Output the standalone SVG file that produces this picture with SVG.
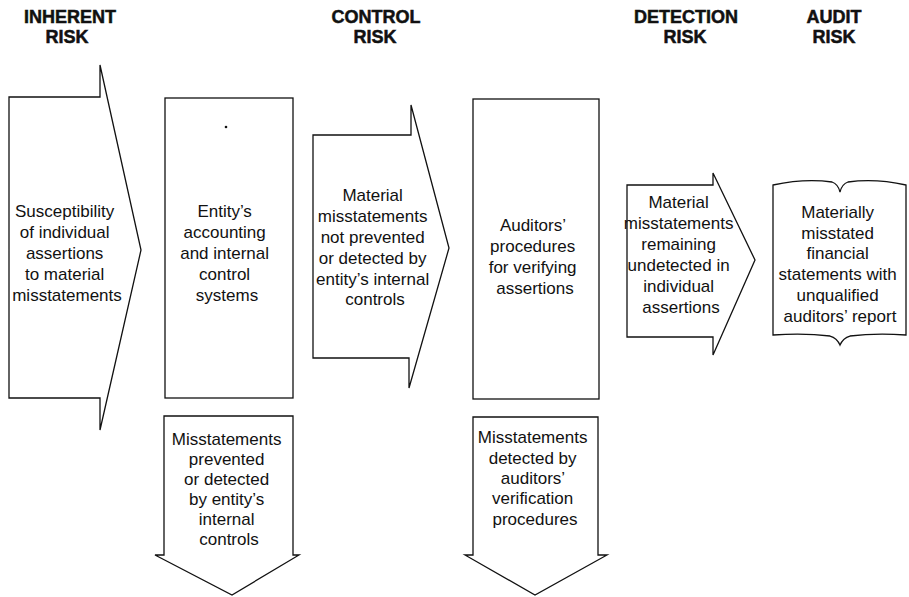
<svg xmlns="http://www.w3.org/2000/svg" width="909" height="597" viewBox="0 0 909 597">
  <style>
    .shape { fill: #fff; stroke: #111; stroke-width: 1.3; stroke-linejoin: miter; }
    .head { font-family: "Liberation Sans", Arial, sans-serif; font-weight: bold; font-size: 18px; fill: #111; stroke: #111; stroke-width: 0.5; text-anchor: middle; }
    .body { font-family: "Liberation Sans", Arial, sans-serif; font-size: 17px; fill: #111; text-anchor: middle; }
  </style>
  <rect width="909" height="597" fill="#fff"/>

  <!-- Column headings -->
  <g id="headings">
    <text class="head" x="70" y="23">INHERENT</text>
    <text class="head" x="67" y="43">RISK</text>
    <text class="head" x="376" y="23">CONTROL</text>
    <text class="head" x="375" y="43">RISK</text>
    <text class="head" x="686" y="23">DETECTION</text>
    <text class="head" x="685" y="43">RISK</text>
    <text class="head" x="834" y="23">AUDIT</text>
    <text class="head" x="834" y="43">RISK</text>
  </g>

  <!-- Inherent risk: right-pointing arrow -->
  <g id="inherent-risk">
    <path class="shape" d="M9,97 H100 V65 L141,250 L100,430 V398 H9 Z"/>
    <text class="body">
      <tspan x="67" y="217">Susceptibility</tspan>
      <tspan x="67" y="238">of individual</tspan>
      <tspan x="67" y="259">assertions</tspan>
      <tspan x="67" y="280">to material</tspan>
      <tspan x="67" y="301">misstatements</tspan>
    </text>
  </g>

  <!-- Entity's control systems box -->
  <g id="entity-controls">
    <rect class="shape" x="165" y="98" width="128" height="300"/>
    <circle cx="226" cy="127" r="1.3" fill="#111"/>
    <text class="body">
      <tspan x="227" y="217">Entity’s</tspan>
      <tspan x="227" y="238">accounting</tspan>
      <tspan x="227" y="259">and internal</tspan>
      <tspan x="227" y="280">control</tspan>
      <tspan x="227" y="301">systems</tspan>
    </text>
  </g>

  <!-- Misstatements prevented: down arrow -->
  <g id="prevented">
    <path class="shape" d="M164,416 H293 V555 H299 L232,595 L155,555 H164 Z"/>
    <text class="body">
      <tspan x="229" y="445">Misstatements</tspan>
      <tspan x="229" y="465">prevented</tspan>
      <tspan x="229" y="485">or detected</tspan>
      <tspan x="229" y="505">by entity’s</tspan>
      <tspan x="229" y="525">internal</tspan>
      <tspan x="229" y="545">controls</tspan>
    </text>
  </g>

  <!-- Control risk: right-pointing arrow -->
  <g id="control-risk">
    <path class="shape" d="M313,135 H411 V105 L449,248 L409,388 V358 H313 Z"/>
    <text class="body">
      <tspan x="375" y="201">Material</tspan>
      <tspan x="375" y="222">misstatements</tspan>
      <tspan x="375" y="243">not prevented</tspan>
      <tspan x="375" y="264">or detected by</tspan>
      <tspan x="375" y="285">entity’s internal</tspan>
      <tspan x="375" y="305">controls</tspan>
    </text>
  </g>

  <!-- Auditors' procedures box -->
  <g id="auditor-procedures">
    <rect class="shape" x="473" y="99" width="126" height="300"/>
    <text class="body">
      <tspan x="535" y="231">Auditors’</tspan>
      <tspan x="535" y="252">procedures</tspan>
      <tspan x="535" y="273">for verifying</tspan>
      <tspan x="535" y="294">assertions</tspan>
    </text>
  </g>

  <!-- Misstatements detected: down arrow -->
  <g id="detected">
    <path class="shape" d="M473,417 H598 V555 H607 L535,595 L465,555 H473 Z"/>
    <text class="body">
      <tspan x="535" y="443">Misstatements</tspan>
      <tspan x="535" y="464">detected by</tspan>
      <tspan x="535" y="484">auditors’</tspan>
      <tspan x="535" y="504">verification</tspan>
      <tspan x="535" y="525">procedures</tspan>
    </text>
  </g>

  <!-- Detection risk: right-pointing arrow -->
  <g id="detection-risk">
    <path class="shape" d="M627,185 H713 V173 L755,260 L713,355 V337 H627 Z"/>
    <text class="body">
      <tspan x="681" y="208">Material</tspan>
      <tspan x="681" y="229">misstatements</tspan>
      <tspan x="681" y="250">remaining</tspan>
      <tspan x="681" y="271">undetected in</tspan>
      <tspan x="681" y="292">individual</tspan>
      <tspan x="681" y="313">assertions</tspan>
    </text>
  </g>

  <!-- Audit risk: open book -->
  <g id="audit-risk">
    <path class="shape" d="M773,185 Q805,178 832,182 Q838,184 840,192 Q842,184 848,182 Q875,178 906,185 V335 Q875,333 850,336 Q843,338 840,345 Q837,338 830,336 Q805,333 773,335 Z"/>
    <text class="body">
      <tspan x="840" y="218">Materially</tspan>
      <tspan x="840" y="239">misstated</tspan>
      <tspan x="840" y="259">financial</tspan>
      <tspan x="840" y="280">statements with</tspan>
      <tspan x="840" y="301">unqualified</tspan>
      <tspan x="840" y="322">auditors’ report</tspan>
    </text>
  </g>

  <g id="connectors"/>
</svg>
